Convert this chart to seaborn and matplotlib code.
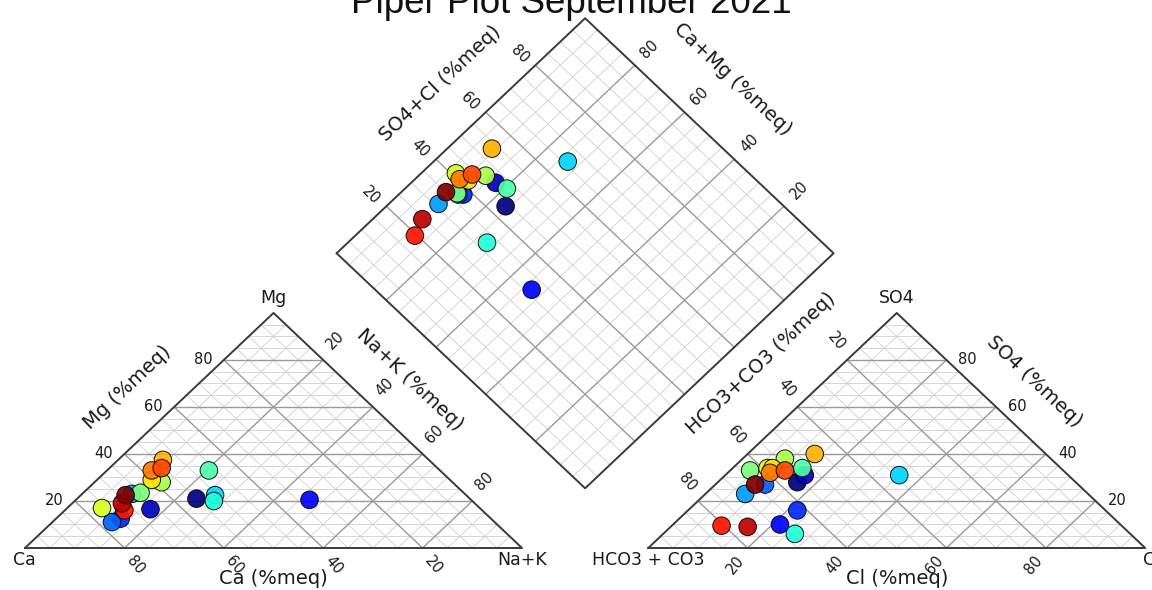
import numpy as np
import pandas as pd
import matplotlib
matplotlib.use("Agg")
import matplotlib.pyplot as plt
import seaborn as sns

# ---------------- data (percent meq) ----------------
title = "Piper Plot September 2021"
sample_id = list(range(1, 20))
nak  = [24, 17, 47, 13, 12, 10, 27, 28, 20.5, 11.5, 13.5, 7, 11, 9, 9, 10.5, 12, 10, 9]
mg   = [21, 16.5, 20.5, 12.5, 11, 23, 22.5, 20, 33, 23.5, 28, 17, 29, 37.5, 33, 34, 16, 19, 22.5]
so4  = [28, 31, 10, 16, 27, 23, 31, 6, 34, 33, 38, 34, 34, 40, 32, 33, 9.5, 9, 27]
cl   = [16, 16, 21.5, 22, 10, 8, 35, 26.5, 14, 4, 8.5, 7, 8, 13.5, 8.5, 11, 10, 15.5, 8]
tick_vals = [20, 40, 60, 80]

# ---------------- geometry ----------------
sns.set_style("white")
plt.rcParams['font.family'] = ['DejaVu Sans']
W, H = 1152, 590
fig = plt.figure(figsize=(W / 100, H / 100), dpi=100)
ax = fig.add_axes([0, 0, 1, 1])
SX, SY = 497.0, 271.4
X0, Y0 = 25.0, 548.0
ax.set_xlim(-X0 / SX, (W - X0) / SX)
ax.set_ylim(-(H - Y0) / SY, Y0 / SY)
ax.axis('off')

def p2d(px, py):
    return (px - X0) / SX, (Y0 - py) / SY

g = 0.254
h = np.sqrt(3) / 2
B = np.array([1 + g / 2, g * h])
L = B + np.array([-0.5, h])
T = B + np.array([0.0, 2 * h])
R = B + np.array([0.5, h])

fine_c, fine_lw = '#d0d0d0', 0.6
maj_c, maj_lw = '#9a9a9a', 1.0
out_c, out_lw = '#3a3a3a', 1.4

def tri_lines(x0, t, **kw):
    ax.plot([x0 + 0.5 * t, x0 + 1 - 0.5 * t], [h * t, h * t], **kw)
    ax.plot([x0 + t, x0 + t + 0.5 * (1 - t)], [0, h * (1 - t)], **kw)
    ax.plot([x0 + 1 - t, x0 + 0.5 * (1 - t)], [0, h * (1 - t)], **kw)

def dia_lines(t, **kw):
    a = L + t * (T - L)
    ax.plot([a[0], a[0] + (B - L)[0]], [a[1], a[1] + (B - L)[1]], **kw)
    b = L + t * (B - L)
    ax.plot([b[0], b[0] + (T - L)[0]], [b[1], b[1] + (T - L)[1]], **kw)

for k in range(1, 20):
    t = k / 20
    if k % 4 == 0:
        continue
    for x0 in (0, 1 + g):
        tri_lines(x0, t, color=fine_c, lw=fine_lw, zorder=1)
    dia_lines(t, color=fine_c, lw=fine_lw, zorder=1)
for t in (0.2, 0.4, 0.6, 0.8):
    for x0 in (0, 1 + g):
        tri_lines(x0, t, color=maj_c, lw=maj_lw, zorder=2)
    dia_lines(t, color=maj_c, lw=maj_lw, zorder=2)

for x0 in (0, 1 + g):
    ax.plot([x0, x0 + 1, x0 + 0.5, x0], [0, 0, h, 0], color=out_c, lw=out_lw, zorder=3)
ax.plot([L[0], T[0], R[0], B[0], L[0]], [L[1], T[1], R[1], B[1], L[1]],
        color=out_c, lw=out_lw, zorder=3)

# ---------------- data positions ----------------
df = pd.DataFrame({'sample': sample_id, 'nak': nak, 'mg': mg, 'so4': so4, 'cl': cl})
df['ca'] = 100 - df['mg'] - df['nak']
df['hco3'] = 100 - df['so4'] - df['cl']
df['cx'] = df['nak'] / 100 + 0.5 * df['mg'] / 100
df['cy'] = h * df['mg'] / 100
df['ax_'] = 1 + g + df['cl'] / 100 + 0.5 * df['so4'] / 100
df['ay'] = h * df['so4'] / 100
s_frac = (df['so4'] + df['cl']) / 100
n_frac = df['nak'] / 100
df['dx'] = L[0] + 0.5 * s_frac + 0.5 * n_frac
df['dy'] = L[1] + h * s_frac - h * n_frac

N = len(sample_id)
jet = matplotlib.colormaps['jet']
for xc, yc in (('cx', 'cy'), ('ax_', 'ay'), ('dx', 'dy')):
    sns.scatterplot(data=df, x=xc, y=yc, hue='sample', palette=jet, hue_norm=(1, N),
                    s=160, edgecolor='black', linewidth=0.7, alpha=0.92, legend=False,
                    ax=ax, zorder=5, clip_on=False)

# ---------------- labels ----------------
tfs = 10.5
lfs = 14
vfs = 12.5
tc = '#1a1a1a'

def ann(txt, xy, off, rot=0, ha='center', va='center', fs=tfs):
    ax.annotate(txt, xy=xy, xytext=off, textcoords='offset pixels', rotation=rot,
                ha=ha, va=va, fontsize=fs, color=tc, rotation_mode='anchor')

for v in tick_vals:
    f = v / 100
    ann(str(v), (0.5 * f, h * f), (-11, 0), ha='right')
    ann(str(v), (1 - f, 0), (11, -17), rot=-50)
    ann(str(v), (0.5 + 0.5 * f, h * (1 - f)), (12, 20), rot=45)
    ann(str(v), (1 + g + 1 - 0.5 * f, h * f), (12, 0), ha='left')
    ann(str(v), (1 + g + f, 0), (-12, -17), rot=50)
    ann(str(v), (1 + g + 0.5 * (1 - f), h * (1 - f)), (-11, 19), rot=-50)
    p = L + f * (T - L)
    ann(str(v), (p[0], p[1]), (-16, 11), rot=-45)
    p = T + (1 - f) * (R - T)
    ann(str(v), (p[0], p[1]), (15, 16), rot=45)

def lab(txt, px, py, rot=0, fs=lfs):
    x, y = p2d(px, py)
    ax.text(x, y, txt, rotation=rot, ha='center', va='center', fontsize=fs,
            color=tc, rotation_mode='anchor')

ang = 43.4
lab("Mg (%meq)", 127.5, 387, ang)
lab("Ca (%meq)", X0 + 0.5 * SX, 578)
lab("Na+K (%meq)", 410, 380, -ang)
lab("HCO3+CO3 (%meq)", 761, 363, ang)
lab("Cl (%meq)", X0 + (1.5 + g) * SX, 578)
lab("SO4 (%meq)", 1034, 381, -ang)
lab("SO4+Cl (%meq)", 440, 83, ang)
lab("Ca+Mg (%meq)", 733, 79, -ang)

lab("Ca", 24, 560, fs=vfs)
lab("Mg", X0 + 0.5 * SX, 298, fs=vfs)
lab("Na+K", X0 + SX, 560, fs=vfs)
lab("HCO3 + CO3", X0 + (1 + g) * SX, 560, fs=vfs)
lab("SO4", X0 + (1.5 + g) * SX, 298, fs=vfs)
lab("Cl", X0 + (2 + g) * SX + 6, 560, fs=vfs)

fig.text(571 / W, 1 - 13 / H, title, ha='center', va='baseline', fontsize=26.5,
         color='#111111', family=['Liberation Sans', 'DejaVu Sans'])

fig.savefig("out.png", dpi=100)
